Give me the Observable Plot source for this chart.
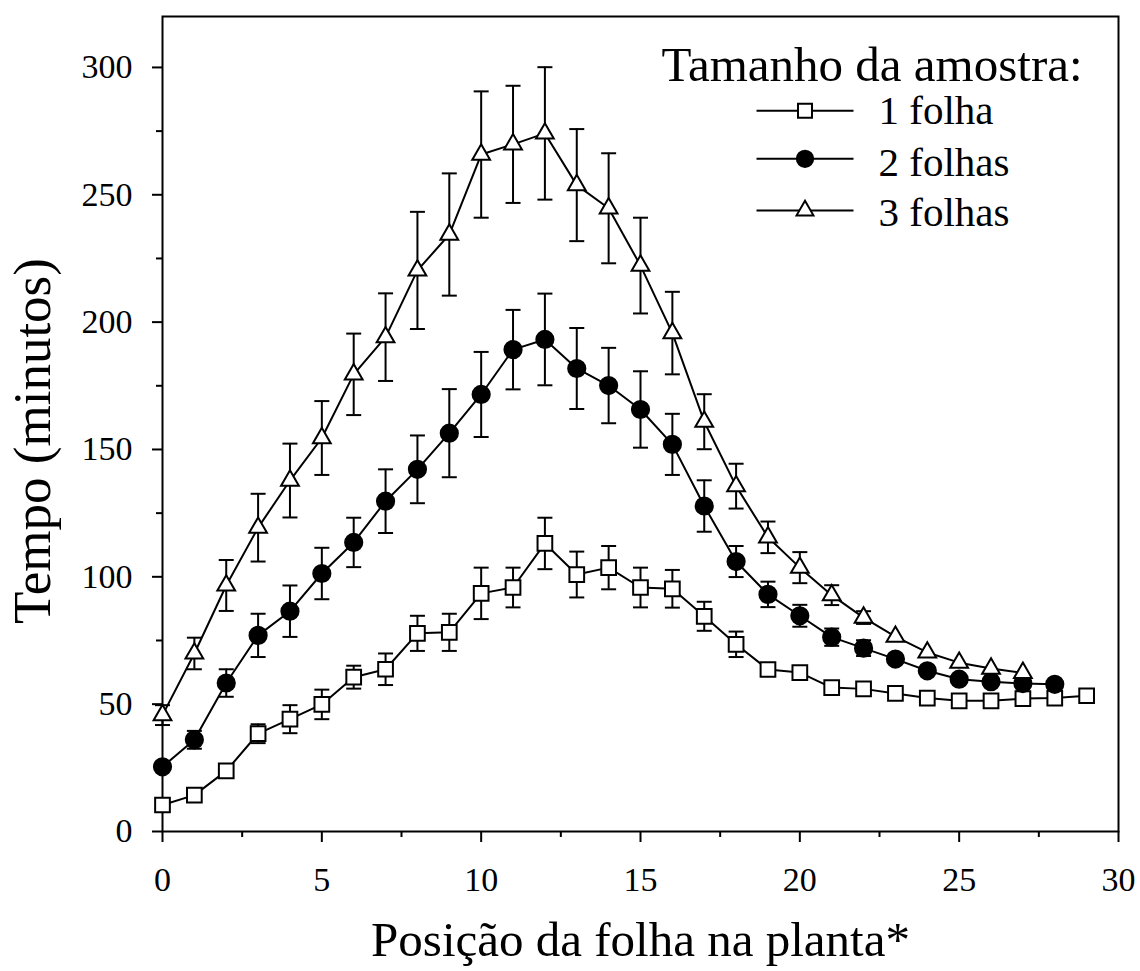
<!DOCTYPE html>
<html>
<head>
<meta charset="utf-8">
<script src="https://cdn.jsdelivr.net/npm/d3@7"></script>
<script src="https://cdn.jsdelivr.net/npm/@observablehq/plot@0.6"></script>
<style>
  html, body { margin: 0; padding: 0; background: #fff; }
</style>
</head>
<body>
<div id="chart"></div>
<script>
// ---- data ----
const positions = [0,1,2,3,4,5,6,7,8,9,10,11,12,13,14,15,16,17,18,19,20,21,22,23,24,25,26,27,28,29];

const folha1 = [10.4,14.3,23.8,38.4,44.1,49.9,60.6,63.7,77.8,78.2,93.5,95.8,113.1,100.9,103.6,95.8,95.3,84.5,73.5,63.6,62.4,56.5,56.0,54.2,52.4,51.3,51.3,52.2,52.4,53.3];
const folha1Err = [0,0,0,3.7,5.5,5.8,4.5,6.2,6.9,7.3,10.1,7.8,10.1,9.0,8.5,7.8,7.4,5.7,5.0,0,0,0,0,0,0,0,0,0,0,0];

const folhas2 = [25.4,36.0,58.3,77.0,86.5,101.3,113.5,129.7,142.2,156.4,171.6,189.2,193.2,181.8,175.1,165.7,152.0,127.8,106.0,93.1,84.7,76.3,72.0,67.7,63.1,59.8,58.8,58.1,57.8];
const folhas2Err = [0,3.5,5.4,8.5,10.1,10.1,9.7,12.5,13.3,17.3,16.7,15.6,18.0,15.9,14.8,15.0,12.0,10.1,6.1,5.0,4.3,3.4,3.1,0,0,0,0,0,0];

const folhas3 = [45.7,69.9,96.6,119.3,137.8,154.5,179.5,194.1,220.3,234.4,265.8,269.8,274.1,253.8,244.7,222.2,195.7,160.9,135.6,115.5,103.6,92.8,84.0,76.5,70.3,66.3,64.0,62.3];
const folhas3Err = [3.9,6.2,10.0,13.3,14.5,14.5,16.0,17.2,23.0,24.0,24.8,23.0,26.0,22.0,21.6,18.8,16.2,10.8,8.8,6.2,6.1,3.9,2.5,0,0,0,0,0];

const seriesNames = ["1 folha", "2 folhas", "3 folhas"];
const xTicks = [0,5,10,15,20,25,30];
const xMinorTicks = [2.5,7.5,12.5,17.5,22.5,27.5];
const yTicks = [0,50,100,150,200,250,300];
const yMinorTicks = [25,75,125,175,225,275];
const xLabel = "Posição da folha na planta*";
const yLabel = "Tempo (minutos)";
const legendTitle = "Tamanho da amostra:";

// ---- build table ----
const seriesDefs = [
  {name: seriesNames[0], values: folha1, errors: folha1Err, symbol: "square", r: 8.3, fill: "white"},
  {name: seriesNames[1], values: folhas2, errors: folhas2Err, symbol: "circle", r: 8.6, fill: "black"},
  {name: seriesNames[2], values: folhas3, errors: folhas3Err, symbol: "triangle", r: 6.6, fill: "white"}
];
const rows = [];
for (const s of seriesDefs) {
  s.values.forEach((v, i) => rows.push({series: s.name, x: positions[i], y: v, e: s.errors[i]}));
}
const errRows = rows.filter(d => d.e > 0);

// custom symbols: error-bar cap and legend line segment
const capSymbol = { draw(ctx) { ctx.moveTo(-7.5, 0); ctx.lineTo(7.5, 0); } };
const legendLine = { draw(ctx) { ctx.moveTo(-48.5, 0); ctx.lineTo(48.5, 0); } };

const font = "'Liberation Serif', 'Times New Roman', Times, serif";

const marks = [
  Plot.frame({stroke: "black", strokeWidth: 2}),
  Plot.axisY({ticks: yTicks, tickSize: 10, tickPadding: 20, fontSize: 34, strokeWidth: 2, label: null}),
  Plot.axisY({ticks: yMinorTicks, tickSize: 6, text: null, strokeWidth: 2, label: null}),
  Plot.axisX({ticks: xTicks, tickSize: 11, tickPadding: 24, fontSize: 34, strokeWidth: 2, label: null}),
  Plot.axisX({ticks: xMinorTicks, tickSize: 6, text: null, strokeWidth: 2, label: null}),
  Plot.line(rows, {x: "x", y: "y", z: "series", stroke: "black", strokeWidth: 2}),
  Plot.ruleX(errRows, {x: "x", y1: d => d.y - d.e, y2: d => d.y + d.e, stroke: "black", strokeWidth: 2}),
  Plot.dot(errRows, {x: "x", y: d => d.y + d.e, symbol: capSymbol, r: 5, fill: "none", stroke: "black", strokeWidth: 2}),
  Plot.dot(errRows, {x: "x", y: d => d.y - d.e, symbol: capSymbol, r: 5, fill: "none", stroke: "black", strokeWidth: 2})
];
for (const s of seriesDefs) {
  marks.push(Plot.dot(rows.filter(d => d.series === s.name), {
    x: "x", y: "y", symbol: s.symbol, r: s.r, fill: s.fill, stroke: "black", strokeWidth: 2
  }));
}

// axis titles
marks.push(Plot.text([yLabel], {text: d => d, frameAnchor: "left", textAnchor: "middle", rotate: -90, dx: -129, dy: 17, fontSize: 53, fill: "black"}));
marks.push(Plot.text([xLabel], {text: d => d, frameAnchor: "bottom", textAnchor: "middle", lineAnchor: "bottom", dy: 124, fontSize: 49, fill: "black"}));

// legend
marks.push(Plot.text([legendTitle], {text: d => d, frameAnchor: "top-left", textAnchor: "start", lineAnchor: "bottom", dx: 499, dy: 64, fontSize: 49, fill: "black"}));
const legendSymDy = [94.3, 142.3, 194];
const legendTextDy = [107.5, 159, 209];
seriesDefs.forEach((s, i) => {
  marks.push(Plot.dot([s.name], {frameAnchor: "top-left", dx: 642.5, dy: legendSymDy[i], symbol: legendLine, r: 5, fill: "none", stroke: "black", strokeWidth: 2}));
  marks.push(Plot.dot([s.name], {frameAnchor: "top-left", dx: 642.5, dy: legendSymDy[i], symbol: s.symbol, r: s.r * 0.95, fill: s.fill, stroke: "black", strokeWidth: 2}));
  marks.push(Plot.text([s.name], {text: d => d, frameAnchor: "top-left", textAnchor: "start", lineAnchor: "bottom", dx: 716, dy: legendTextDy[i], fontSize: 41, fill: "black"}));
});

const chart = Plot.plot({
  width: 1140,
  height: 971,
  marginLeft: 162,
  marginRight: 22,
  marginTop: 16,
  marginBottom: 140,
  x: {domain: [0, 30]},
  y: {domain: [0, 320]},
  style: {fontFamily: font, background: "white", color: "black", overflow: "visible"},
  marks
});
document.getElementById("chart").appendChild(chart);
</script>
</body>
</html>
